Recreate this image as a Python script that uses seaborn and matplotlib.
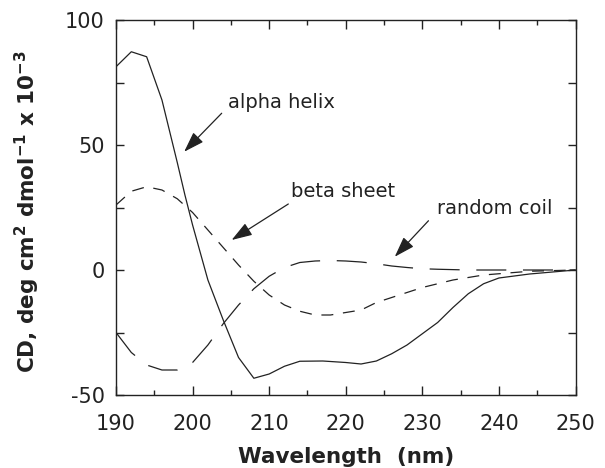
import matplotlib
matplotlib.use("Agg")
import matplotlib.pyplot as plt
import numpy as np
import pandas as pd
import seaborn as sns

# ---- data ----
wl_alpha = [190, 192, 194, 196, 198, 199, 200, 201, 202, 204, 206, 208, 210, 212, 214, 217,
            220, 222, 224, 226, 228, 230, 232, 234, 236, 238, 240, 244, 250]
cd_alpha = [81.3, 87.3, 85.3, 68, 43, 30, 18, 7, -4, -20, -35, -43.3, -41.6, -38.5, -36.5, -36.4,
            -37, -37.6, -36.4, -33.5, -30, -25.5, -21, -15, -9.5, -5.5, -3.2, -1.6, 0]

wl_beta = [190, 192, 194, 196, 198, 200, 202, 204, 206, 208, 210, 212, 214, 216, 218, 220,
           222, 224, 226, 228, 230, 232, 234, 236, 238, 240, 244, 250]
cd_beta = [26, 31.5, 33.3, 32, 28.5, 23, 16, 9, 2, -4.5, -10, -14, -16.5, -18, -18, -17,
           -16, -13, -11, -9, -7, -5.5, -4, -3, -2, -1.5, -0.5, 0]

wl_coil = [190, 192, 194, 196, 198, 200, 202, 204, 206, 208, 210, 212, 214, 216, 218, 220,
           222, 224, 226, 228, 230, 232, 236, 240, 250]
cd_coil = [-25, -33, -38, -40, -40, -37, -30, -21.5, -14, -7.5, -2.5, 1, 3, 3.6, 3.8, 3.6,
           3.2, 2.5, 1.6, 1, 0.5, 0.3, 0, 0, 0]

structures = ["alpha helix", "beta sheet", "random coil"]
x_ticks = [190, 200, 210, 220, 230, 240, 250]
y_ticks = [-50, 0, 50, 100]

df = pd.concat([
    pd.DataFrame({"wl": wl_alpha, "cd": cd_alpha, "structure": structures[0]}),
    pd.DataFrame({"wl": wl_beta, "cd": cd_beta, "structure": structures[1]}),
    pd.DataFrame({"wl": wl_coil, "cd": cd_coil, "structure": structures[2]}),
], ignore_index=True)

# ---- style ----
sns.set_theme(style="ticks")
plt.rcParams["font.family"] = ["DejaVu Sans"]
plt.rcParams["mathtext.fontset"] = "dejavusans"
plt.rcParams["axes.unicode_minus"] = False
plt.rcParams["lines.scale_dashes"] = False

ink = "#222222"
fig = plt.figure(figsize=(6.05, 4.68), dpi=100)
ax = fig.add_axes([116 / 605, 1 - 395 / 468, (575.5 - 116) / 605, (395 - 20) / 468])

sns.lineplot(data=df, x="wl", y="cd", hue="structure", style="structure",
             palette={s: ink for s in structures},
             dashes={"alpha helix": "", "beta sheet": (8.6, 7.0), "random coil": (21.6, 12.0)},
             estimator=None, sort=False, legend=False, linewidth=0.9, ax=ax)

ax.set_xlim(190, 250)
ax.set_ylim(-50, 100)
ax.set_xticks(x_ticks)
ax.set_xticks(np.arange(195, 250, 10), minor=True)
ax.set_yticks(y_ticks)
ax.set_yticks([-25, 25, 75], minor=True)

for s in ax.spines.values():
    s.set_visible(True)
    s.set_linewidth(1.0)
    s.set_color(ink)

ax.tick_params(axis="both", which="both", direction="in", top=True, right=True,
               color=ink, width=1.0)
ax.tick_params(axis="x", which="major", length=6.2, pad=14, labelsize=15, labelcolor=ink)
ax.tick_params(axis="x", which="minor", length=3.6)
ax.tick_params(axis="y", which="major", length=6.0, pad=8, labelsize=15, labelcolor=ink)
ax.tick_params(axis="y", which="minor", length=6.0)

ax.set_xlabel("Wavelength  (nm)", fontsize=15.5, fontweight="bold", color=ink, va="center")
ax.xaxis.set_label_coords(0.5, -(457 - 395) / 375, transform=ax.transAxes)
ax.set_ylabel(r"CD, deg cm$^{\mathbf{2}}$ dmol$^{\mathbf{-1}}$ x 10$^{\mathbf{-3}}$",
              fontsize=15.5, fontweight="bold", color=ink, va="center")
ax.yaxis.set_label_coords(-(116 - 27) / 459.5, (395 - 212) / 375, transform=ax.transAxes)

# ---- annotations ----
arrow = dict(arrowstyle="-|>,head_length=0.9,head_width=0.3", color=ink, lw=0.9,
             mutation_scale=14, shrinkA=0, shrinkB=0)
ax.annotate("", xy=(198.9, 47.3), xytext=(203.8, 62.7), arrowprops=arrow)
ax.text(204.6, 67, "alpha helix", fontsize=14, color=ink, ha="left", va="center")
ax.annotate("", xy=(205.1, 12), xytext=(212.5, 26.4), arrowprops=arrow)
ax.text(212.9, 31.3, "beta sheet", fontsize=14, color=ink, ha="left", va="center")
ax.annotate("", xy=(226.4, 5.3), xytext=(230.8, 19.7), arrowprops=arrow)
ax.text(231.9, 24.8, "random coil", fontsize=14, color=ink, ha="left", va="center")

fig.savefig("out.png", dpi=100)
